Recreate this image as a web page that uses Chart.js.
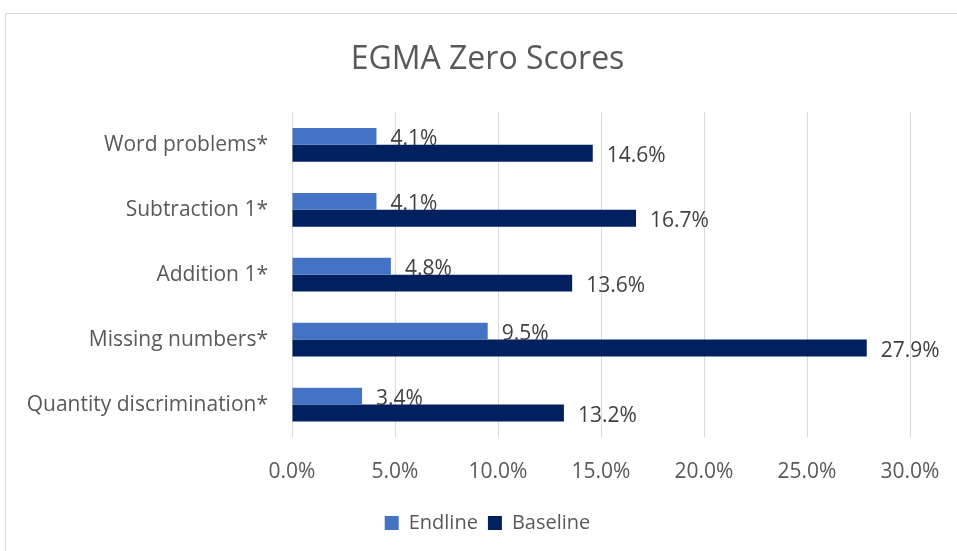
<!DOCTYPE html>
<html>
<head>
<meta charset="utf-8">
<script src="https://cdn.jsdelivr.net/npm/chart.js@4/dist/chart.umd.min.js"></script>
<style>
  html, body { margin: 0; padding: 0; background: #fff; }
  #wrap { width: 957px; height: 551px; }
</style>
</head>
<body>
<div id="wrap"><canvas id="c" width="957" height="551"></canvas></div>
<script>
const categories = ['Word problems*', 'Subtraction 1*', 'Addition 1*', 'Missing numbers*', 'Quantity discrimination*']
const endline = [4.1, 4.1, 4.8, 9.5, 3.4]
const baseline = [14.6, 16.7, 13.6, 27.9, 13.2]
const xTicks = [0, 5, 10, 15, 20, 25, 30]

const textColor = '#595959'
const font = 'Open Sans'

// outer frame like the office chart area
const frame = {
    id: 'frame',
    beforeDraw: (chart) => {
        const ctx = chart.ctx
        ctx.save()
        ctx.fillStyle = '#fff'
        ctx.fillRect(0, 0, chart.width, chart.height)
        ctx.strokeStyle = '#d9d9d9'
        ctx.lineWidth = 1
        ctx.strokeRect(5.5, 13.5, 1000, 1000)
        ctx.restore()
    }
}

// value labels at the end of each bar
const barLabels = {
    id: 'barLabels',
    afterDatasetsDraw: (chart) => {
        const ctx = chart.ctx
        ctx.save()
        ctx.font = '21px "' + font + '"'
        ctx.fillStyle = '#404040'
        ctx.textAlign = 'left'
        ctx.textBaseline = 'middle'
        chart.data.datasets.forEach((ds, i) => {
            chart.getDatasetMeta(i).data.forEach((bar, j) => {
                ctx.fillText(ds.data[j].toFixed(1) + '%', bar.x + 14, bar.y + 3)
            })
        })
        ctx.restore()
    }
}

new Chart(document.getElementById('c').getContext('2d'), {
    type: 'bar',
    data: {
        labels: categories,
        datasets: [
            { label: 'Endline', data: endline, backgroundColor: '#4472C4' },
            { label: 'Baseline', data: baseline, backgroundColor: '#002060' }
        ]
    },
    options: {
        indexAxis: 'y',
        responsive: false,
        animation: false,
        devicePixelRatio: 1,
        categoryPercentage: 0.52,
        barPercentage: 1,
        layout: { padding: { left: 18, right: 0, top: 0, bottom: 8 } },
        scales: {
            x: {
                min: 0,
                max: 30,
                afterBuildTicks: (scale) => { scale.ticks = xTicks.map(v => ({ value: v })) },
                afterFit: (scale) => {
                    scale.height = 66
                    scale.paddingLeft = 0
                    scale.paddingRight = 0
                },
                grid: { color: '#d9d9d9', drawTicks: false },
                border: { display: false },
                ticks: {
                    padding: 22,
                    color: textColor,
                    font: { family: font, size: 21 },
                    callback: (v) => v.toFixed(1) + '%'
                }
            },
            y: {
                afterFit: (scale) => { scale.width = 274 },
                grid: { display: false },
                border: { display: false },
                ticks: {
                    padding: 16,
                    color: textColor,
                    font: { family: font, size: 21 }
                }
            },
            // empty right-hand gutter so title and legend centre like the original
            gutter: {
                axis: 'y',
                position: 'right',
                afterFit: (scale) => { scale.width = 47 },
                grid: { display: false },
                border: { display: false },
                ticks: { display: false }
            }
        },
        plugins: {
            title: {
                display: true,
                text: 'EGMA Zero Scores',
                color: textColor,
                font: { family: font, size: 32, weight: 'normal' },
                padding: { top: 41, bottom: 33 }
            },
            legend: {
                position: 'bottom',
                labels: {
                    color: textColor,
                    font: { family: font, size: 20 },
                    boxWidth: 14,
                    boxHeight: 14,
                    padding: 10
                }
            },
            tooltip: { enabled: false }
        }
    },
    plugins: [frame, barLabels]
})
</script>
</body>
</html>
